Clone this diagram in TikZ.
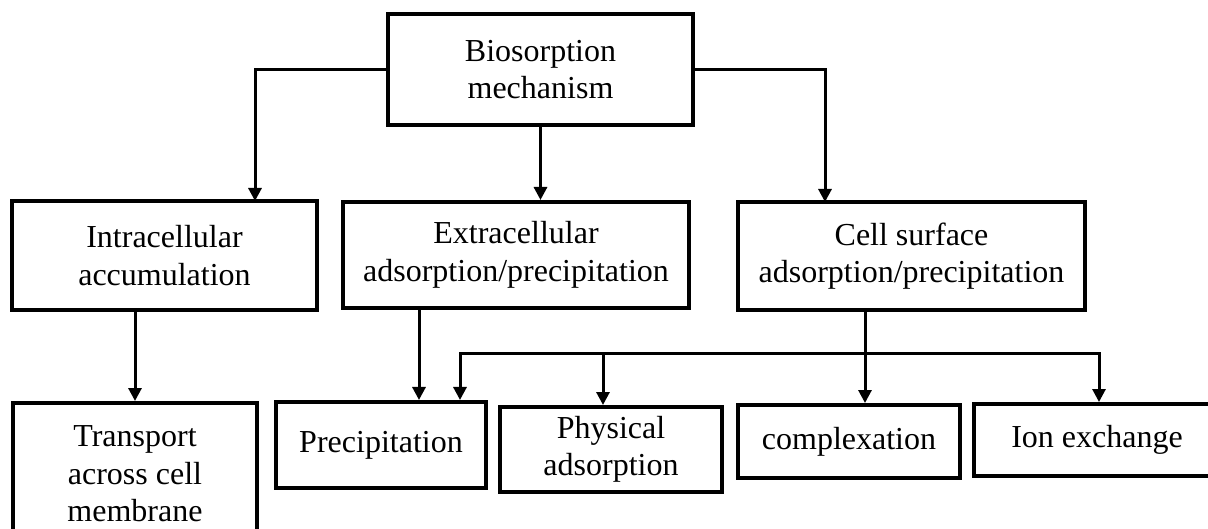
\documentclass[tikz,border=0pt]{standalone}
\usepackage{fontspec}
\setmainfont{Liberation Serif}
\usetikzlibrary{arrows.meta}

\begin{document}
\begin{tikzpicture}[x=1pt,y=-1pt,
  box/.style={rectangle,draw,line width=4pt,align=center,inner sep=0pt,
    font=\fontsize{32}{37.5}\selectfont},
  arr/.style={line width=3pt,-{Triangle[width=13pt,length=13pt]}}]

  \useasboundingbox (0,0) rectangle (1208,529);

  \node[box,minimum width=305pt,minimum height=111pt] (bio) at (540.5,69.5) {Biosorption\\mechanism};
  \node[box,minimum width=305pt,minimum height=109pt] (intra) at (164.5,255.5) {Intracellular\\accumulation};
  \node[box,minimum width=346pt,minimum height=106pt] (extra) at (516,255) {Extracellular\\adsorption/precipitation};
  \node[box,minimum width=347pt,minimum height=108pt] (cell) at (911.5,256) {Cell surface\\adsorption/precipitation};
  \node[box,minimum width=244pt,minimum height=142pt] (trans) at (135,474) {Transport\\across cell\\membrane};
  \node[box,minimum width=210pt,minimum height=86pt] (prec) at (381,445) {Precipitation};
  \node[box,minimum width=222pt,minimum height=85pt] (phys) at (611,449.5) {Physical\\adsorption};
  \node[box,minimum width=222pt,minimum height=73pt] (comp) at (849,441.5) {complexation};
  \node[box,minimum width=246pt,minimum height=72pt] (ion) at (1097,440) {Ion exchange};

  \coordinate (l) at (255,201);
  \coordinate (r) at (825,202);
  \coordinate (bus) at (865,354);

  \draw[arr] (bio.west) -| (l);
  \draw[arr] (bio.south) -- (bio.south |- extra.north);
  \draw[arr] (bio.east) -| (r);
  \draw[arr] (intra.south -| trans.north) -- (trans.north);
  \draw[arr] ([xshift=-97pt]extra.south) -- ([xshift=-97pt]extra.south |- prec.north);
  \draw[arr] ([xshift=-46.5pt]cell.south) -- (bus) -- ([xshift=16pt]comp.north);
  \draw[arr] (bus) -| ([xshift=79pt]prec.north);
  \draw[arr] (bus) -| ([xshift=2pt]ion.north);
  \draw[arr] ([xshift=-8pt]phys.north |- bus) -- ([xshift=-8pt]phys.north);
\end{tikzpicture}
\end{document}
